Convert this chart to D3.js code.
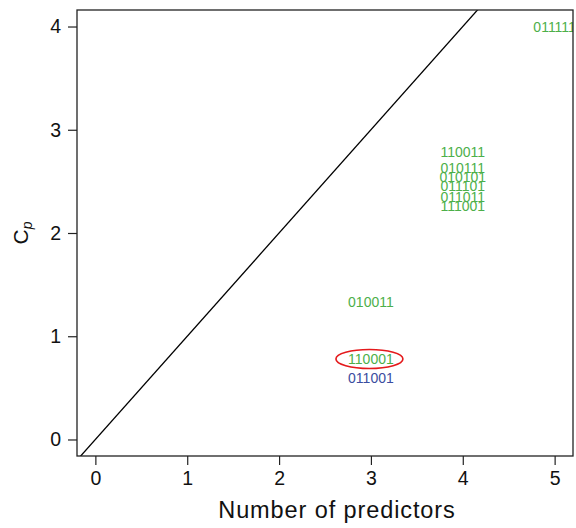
<!DOCTYPE html>
<html>
<head>
<meta charset="utf-8">
<script src="https://cdn.jsdelivr.net/npm/d3@7"></script>
<style>
  body { margin: 0; background: #fff; }
  text { font-family: "Liberation Sans", Arial, sans-serif; }
</style>
</head>
<body>
<svg width="576" height="528"></svg>
<script>
const width = 576;
const height = 528;

// model labels (which of 6 predictors are in), size and Cp
const models = ['011111', '110011', '010111', '010101', '011101', '011011', '111001', '010011', '110001', '011001'];
const numPredictors = [5, 4, 4, 4, 4, 4, 4, 3, 3, 3];
const cpValues = [4.0, 2.78, 2.63, 2.54, 2.46, 2.35, 2.26, 1.33, 0.78, 0.60];
const groups = ['g', 'g', 'g', 'g', 'g', 'g', 'g', 'g', 'g', 'b'];
const highlighted = '110001';

const xTicks = [0, 1, 2, 3, 4, 5];
const yTicks = [0, 1, 2, 3, 4];

const colDict = { g: '#4daf4a', b: '#3b4da0' };

const margin = { top: 10, right: 3, bottom: 72, left: 77 };

const svg = d3.select('svg');

const xScale = d3.scaleLinear()
  .domain([-0.2, 5.2])
  .range([margin.left, width - margin.right]);

const yScale = d3.scaleLinear()
  .domain([-0.16, 4.16])
  .range([height - margin.bottom, margin.top]);

svg.append('clipPath').attr('id', 'plotclip')
  .append('rect')
  .attr('x', margin.left)
  .attr('y', margin.top)
  .attr('width', width - margin.left - margin.right)
  .attr('height', height - margin.top - margin.bottom);

const plot = svg.append('g').attr('clip-path', 'url(#plotclip)');

// Cp = p reference line
const lineData = [-0.2, 5.2];
plot.append('line')
  .attr('x1', xScale(lineData[0]))
  .attr('y1', yScale(lineData[0]))
  .attr('x2', xScale(lineData[1]))
  .attr('y2', yScale(lineData[1]))
  .attr('stroke', '#000')
  .attr('stroke-width', 1.3);

const data = models.map((m, i) => ({ name: m, p: numPredictors[i], cp: cpValues[i], g: groups[i] }));

plot.selectAll('text.model')
  .data(data)
  .enter()
  .append('text')
  .attr('class', 'model')
  .attr('x', d => xScale(d.p))
  .attr('y', d => yScale(d.cp))
  .attr('text-anchor', 'middle')
  .attr('dominant-baseline', 'central')
  .attr('font-size', 14)
  .attr('fill', d => colDict[d.g])
  .text(d => d.name);

const hl = data.find(d => d.name === highlighted);
plot.append('ellipse')
  .attr('cx', xScale(hl.p) - 1.5)
  .attr('cy', yScale(hl.cp))
  .attr('rx', 33.5)
  .attr('ry', 9.5)
  .attr('fill', 'none')
  .attr('stroke', '#e41a1c')
  .attr('stroke-width', 1.6);

// frame
svg.append('rect')
  .attr('x', margin.left)
  .attr('y', margin.top)
  .attr('width', width - margin.left - margin.right)
  .attr('height', height - margin.top - margin.bottom)
  .attr('fill', 'none')
  .attr('stroke', '#222')
  .attr('stroke-width', 1.3);

const xAxis = svg.append('g')
  .attr('transform', `translate(0,${height - margin.bottom})`)
  .call(d3.axisBottom(xScale).tickValues(xTicks).tickSize(9).tickPadding(6).tickFormat(d3.format('d')));

const yAxis = svg.append('g')
  .attr('transform', `translate(${margin.left},0)`)
  .call(d3.axisLeft(yScale).tickValues(yTicks).tickSize(9).tickPadding(7).tickFormat(d3.format('d')));

[xAxis, yAxis].forEach(a => {
  a.select('.domain').remove();
  a.selectAll('line').attr('stroke', '#222').attr('stroke-width', 1.2);
  a.selectAll('text')
    .attr('font-size', 19.5)
    .attr('fill', '#111')
    .style('font-family', '"Liberation Sans", Arial, sans-serif');
});

svg.append('text')
  .attr('x', 337)
  .attr('y', 510)
  .attr('text-anchor', 'middle')
  .attr('dominant-baseline', 'central')
  .attr('font-size', 23.5)
  .attr('letter-spacing', 0.9)
  .attr('fill', '#111')
  .text('Number of predictors');

const ylab = svg.append('text')
  .attr('transform', `translate(28,${yScale(2)}) rotate(-90)`)
  .attr('text-anchor', 'middle')
  .attr('font-size', 21)
  .attr('fill', '#111');
ylab.append('tspan').text('C');
ylab.append('tspan')
  .attr('font-size', 14)
  .attr('font-style', 'italic')
  .attr('dy', 4)
  .text('p');
</script>
</body>
</html>
